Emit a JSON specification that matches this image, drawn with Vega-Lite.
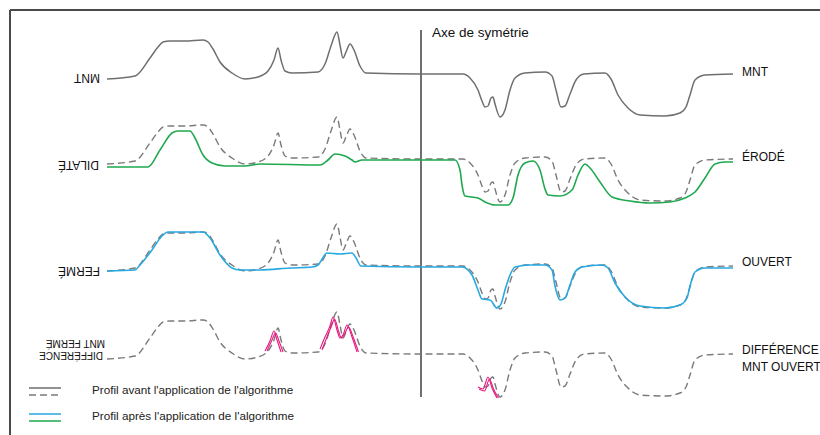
{
  "$schema": "https://vega.github.io/schema/vega-lite/v6.json",
  "width": 820,
  "height": 435,
  "autosize": "none",
  "padding": 0,
  "background": "white",
  "config": {"view": {"stroke": null}},
  "resolve": {"scale": {"color": "independent", "strokeDash": "independent"}},
  "datasets": {
    "mnt": [
      {"x":107,"a":79,"b":164,"c":271,"d":359},
      {"x":135,"a":76,"b":161,"c":268,"d":356},
      {"x":150,"a":58,"b":143,"c":250,"d":338},
      {"x":158,"a":47,"b":132,"c":239,"d":327},
      {"x":163,"a":42,"b":127,"c":234,"d":322},
      {"x":170,"a":41,"b":126,"c":233,"d":321},
      {"x":185,"a":41,"b":126,"c":233,"d":321},
      {"x":203,"a":40,"b":125,"c":232,"d":320},
      {"x":208,"a":42,"b":127,"c":234,"d":322},
      {"x":213,"a":49,"b":134,"c":241,"d":329},
      {"x":220,"a":62,"b":147,"c":254,"d":342},
      {"x":232,"a":73,"b":158,"c":265,"d":353},
      {"x":245,"a":79,"b":164,"c":271,"d":359},
      {"x":258,"a":77,"b":162,"c":269,"d":357},
      {"x":268,"a":71,"b":156,"c":263,"d":351},
      {"x":274,"a":60,"b":145,"c":252,"d":340},
      {"x":278,"a":48,"b":133,"c":240,"d":328},
      {"x":281,"a":60,"b":145,"c":252,"d":340},
      {"x":285,"a":71,"b":156,"c":263,"d":351},
      {"x":292,"a":73,"b":158,"c":265,"d":353},
      {"x":318,"a":72,"b":157,"c":264,"d":352},
      {"x":325,"a":64,"b":149,"c":256,"d":344},
      {"x":331,"a":46,"b":131,"c":238,"d":326},
      {"x":337,"a":32,"b":117,"c":224,"d":312},
      {"x":340,"a":45,"b":130,"c":237,"d":325},
      {"x":343,"a":58,"b":143,"c":250,"d":338},
      {"x":346,"a":52,"b":137,"c":244,"d":332},
      {"x":350,"a":44,"b":129,"c":236,"d":324},
      {"x":354,"a":50,"b":135,"c":242,"d":330},
      {"x":360,"a":66,"b":151,"c":258,"d":346},
      {"x":366,"a":73,"b":158,"c":265,"d":353},
      {"x":420,"a":74,"b":159,"c":266,"d":354},
      {"x":463,"a":74,"b":159,"c":266,"d":354},
      {"x":470,"a":78,"b":163,"c":270,"d":358},
      {"x":478,"a":90,"b":175,"c":282,"d":370},
      {"x":482,"a":101,"b":186,"c":293,"d":381},
      {"x":485,"a":107,"b":192,"c":299,"d":387},
      {"x":488,"a":106,"b":191,"c":298,"d":386},
      {"x":491,"a":98,"b":183,"c":290,"d":378},
      {"x":493,"a":97,"b":182,"c":289,"d":377},
      {"x":495,"a":104,"b":189,"c":296,"d":384},
      {"x":500,"a":117,"b":202,"c":309,"d":397},
      {"x":505,"a":110,"b":195,"c":302,"d":390},
      {"x":510,"a":90,"b":175,"c":282,"d":370},
      {"x":515,"a":78,"b":163,"c":270,"d":358},
      {"x":525,"a":73,"b":158,"c":265,"d":353},
      {"x":545,"a":72,"b":157,"c":264,"d":352},
      {"x":552,"a":76,"b":161,"c":268,"d":356},
      {"x":556,"a":90,"b":175,"c":282,"d":370},
      {"x":561,"a":107,"b":192,"c":299,"d":387},
      {"x":565,"a":106,"b":191,"c":298,"d":386},
      {"x":570,"a":94,"b":179,"c":286,"d":374},
      {"x":576,"a":80,"b":165,"c":272,"d":360},
      {"x":584,"a":74,"b":159,"c":266,"d":354},
      {"x":605,"a":73,"b":158,"c":265,"d":353},
      {"x":611,"a":79,"b":164,"c":271,"d":359},
      {"x":618,"a":95,"b":180,"c":287,"d":375},
      {"x":628,"a":108,"b":193,"c":300,"d":388},
      {"x":640,"a":115,"b":200,"c":307,"d":395},
      {"x":665,"a":116,"b":201,"c":308,"d":396},
      {"x":680,"a":113,"b":198,"c":305,"d":393},
      {"x":686,"a":107,"b":192,"c":299,"d":387},
      {"x":690,"a":95,"b":180,"c":287,"d":375},
      {"x":695,"a":80,"b":165,"c":272,"d":360},
      {"x":705,"a":75,"b":160,"c":267,"d":355},
      {"x":733,"a":74,"b":159,"c":266,"d":354}
    ],
    "algo": [
      {"s":"g","k":"vert","x":107,"y":167},{"s":"g","k":"vert","x":148,"y":167},{"s":"g","k":"vert","x":160,"y":150},
      {"s":"g","k":"vert","x":172,"y":133},{"s":"g","k":"vert","x":178,"y":131},{"s":"g","k":"vert","x":190,"y":131},
      {"s":"g","k":"vert","x":195,"y":138},{"s":"g","k":"vert","x":203,"y":155},{"s":"g","k":"vert","x":212,"y":163},
      {"s":"g","k":"vert","x":225,"y":166},{"s":"g","k":"vert","x":245,"y":166},{"s":"g","k":"vert","x":260,"y":164},
      {"s":"g","k":"vert","x":320,"y":165},{"s":"g","k":"vert","x":328,"y":160},{"s":"g","k":"vert","x":335,"y":154},
      {"s":"g","k":"vert","x":345,"y":156},{"s":"g","k":"vert","x":352,"y":160},{"s":"g","k":"vert","x":355,"y":162},
      {"s":"g","k":"vert","x":362,"y":160},{"s":"g","k":"vert","x":420,"y":160},{"s":"g","k":"vert","x":455,"y":160},
      {"s":"g","k":"vert","x":460,"y":170},{"s":"g","k":"vert","x":462,"y":185},{"s":"g","k":"vert","x":465,"y":196},
      {"s":"g","k":"vert","x":478,"y":198},{"s":"g","k":"vert","x":485,"y":202},{"s":"g","k":"vert","x":495,"y":205},
      {"s":"g","k":"vert","x":508,"y":205},{"s":"g","k":"vert","x":513,"y":198},{"s":"g","k":"vert","x":518,"y":175},
      {"s":"g","k":"vert","x":525,"y":163},{"s":"g","k":"vert","x":533,"y":161},{"s":"g","k":"vert","x":540,"y":170},
      {"s":"g","k":"vert","x":545,"y":189},{"s":"g","k":"vert","x":548,"y":195},{"s":"g","k":"vert","x":560,"y":196},
      {"s":"g","k":"vert","x":572,"y":190},{"s":"g","k":"vert","x":578,"y":175},{"s":"g","k":"vert","x":585,"y":164},
      {"s":"g","k":"vert","x":590,"y":168},{"s":"g","k":"vert","x":600,"y":182},{"s":"g","k":"vert","x":612,"y":197},
      {"s":"g","k":"vert","x":630,"y":201},{"s":"g","k":"vert","x":650,"y":203},{"s":"g","k":"vert","x":670,"y":202},
      {"s":"g","k":"vert","x":685,"y":198},{"s":"g","k":"vert","x":695,"y":192},{"s":"g","k":"vert","x":705,"y":178},
      {"s":"g","k":"vert","x":715,"y":164},{"s":"g","k":"vert","x":725,"y":162},{"s":"g","k":"vert","x":733,"y":162},
      {"s":"b","k":"bleu","x":107,"y":271},{"s":"b","k":"bleu","x":135,"y":270},{"s":"b","k":"bleu","x":140,"y":265},
      {"s":"b","k":"bleu","x":152,"y":250},{"s":"b","k":"bleu","x":162,"y":236},{"s":"b","k":"bleu","x":168,"y":232},
      {"s":"b","k":"bleu","x":203,"y":232},{"s":"b","k":"bleu","x":210,"y":238},{"s":"b","k":"bleu","x":220,"y":255},
      {"s":"b","k":"bleu","x":232,"y":268},{"s":"b","k":"bleu","x":240,"y":270},{"s":"b","k":"bleu","x":260,"y":270},
      {"s":"b","k":"bleu","x":290,"y":268},{"s":"b","k":"bleu","x":312,"y":267},{"s":"b","k":"bleu","x":318,"y":265},
      {"s":"b","k":"bleu","x":327,"y":253},{"s":"b","k":"bleu","x":340,"y":254},{"s":"b","k":"bleu","x":352,"y":253},
      {"s":"b","k":"bleu","x":356,"y":258},{"s":"b","k":"bleu","x":361,"y":266},{"s":"b","k":"bleu","x":420,"y":267},
      {"s":"b","k":"bleu","x":462,"y":267},{"s":"b","k":"bleu","x":472,"y":275},{"s":"b","k":"bleu","x":478,"y":290},
      {"s":"b","k":"bleu","x":482,"y":299},{"s":"b","k":"bleu","x":490,"y":300},{"s":"b","k":"bleu","x":497,"y":308},
      {"s":"b","k":"bleu","x":501,"y":304},{"s":"b","k":"bleu","x":505,"y":290},{"s":"b","k":"bleu","x":510,"y":275},
      {"s":"b","k":"bleu","x":515,"y":267},{"s":"b","k":"bleu","x":530,"y":265},{"s":"b","k":"bleu","x":545,"y":265},
      {"s":"b","k":"bleu","x":552,"y":270},{"s":"b","k":"bleu","x":555,"y":286},{"s":"b","k":"bleu","x":560,"y":300},
      {"s":"b","k":"bleu","x":565,"y":298},{"s":"b","k":"bleu","x":570,"y":285},{"s":"b","k":"bleu","x":575,"y":272},
      {"s":"b","k":"bleu","x":582,"y":267},{"s":"b","k":"bleu","x":602,"y":265},{"s":"b","k":"bleu","x":608,"y":268},
      {"s":"b","k":"bleu","x":615,"y":283},{"s":"b","k":"bleu","x":625,"y":297},{"s":"b","k":"bleu","x":640,"y":306},
      {"s":"b","k":"bleu","x":665,"y":308},{"s":"b","k":"bleu","x":680,"y":305},{"s":"b","k":"bleu","x":687,"y":298},
      {"s":"b","k":"bleu","x":690,"y":286},{"s":"b","k":"bleu","x":695,"y":272},{"s":"b","k":"bleu","x":705,"y":268},
      {"s":"b","k":"bleu","x":733,"y":268}
    ],
    "pink": [
      {"s":"p1","x":265,"y":351},{"s":"p1","x":270,"y":341},{"s":"p1","x":274,"y":331},{"s":"p1","x":277,"y":340},{"s":"p1","x":281,"y":352},
      {"s":"p1b","x":267,"y":351},{"s":"p1b","x":272,"y":340},{"s":"p1b","x":275.5,"y":333},{"s":"p1b","x":279,"y":341},{"s":"p1b","x":283,"y":352},
      {"s":"p2","x":320,"y":349},{"s":"p2","x":325,"y":337},{"s":"p2","x":330,"y":326},{"s":"p2","x":333,"y":317},{"s":"p2","x":337,"y":330},
      {"s":"p2","x":340,"y":338},{"s":"p2","x":343,"y":335},{"s":"p2","x":347,"y":325},{"s":"p2","x":352,"y":337},{"s":"p2","x":357,"y":352},
      {"s":"p2b","x":322,"y":350},{"s":"p2b","x":327,"y":337},{"s":"p2b","x":331.5,"y":326},{"s":"p2b","x":334.5,"y":319},{"s":"p2b","x":338.5,"y":331},
      {"s":"p2b","x":341.5,"y":338},{"s":"p2b","x":344.5,"y":334},{"s":"p2b","x":348.5,"y":327},{"s":"p2b","x":353.5,"y":338},{"s":"p2b","x":358.5,"y":352},
      {"s":"p3","x":478,"y":387},{"s":"p3","x":483,"y":389},{"s":"p3","x":488,"y":377},{"s":"p3","x":492,"y":388},{"s":"p3","x":497,"y":398},
      {"s":"p3b","x":479,"y":389},{"s":"p3b","x":484.5,"y":391},{"s":"p3b","x":489.5,"y":379},{"s":"p3b","x":493.5,"y":389},{"s":"p3b","x":498.5,"y":398}
    ],
    "frame": [
      {"x":10,"y":10,"x2":820,"y2":10},
      {"x":10,"y":10,"x2":10,"y2":435}
    ],
    "axe": [{"x":421,"y":30,"x2":421,"y2":397,"t":"Axe de symétrie","tx":432,"ty":33}],
    "labelsR": [
      {"t":"MNT","x":742,"y":72},
      {"t":"ÉRODÉ","x":742,"y":157},
      {"t":"OUVERT","x":742,"y":262},
      {"t":"DIFFÉRENCE","x":742,"y":350},
      {"t":"MNT OUVERT","x":742,"y":367}
    ],
    "labelsL": [
      {"t":"MNT","x":100,"y":78},
      {"t":"DILATÉ","x":99,"y":165},
      {"t":"FERMÉ","x":100,"y":271}
    ],
    "labelsL2": [
      {"t":"MNT FERMÉ","x":105,"y":343},
      {"t":"DIFFÉRENCE","x":103,"y":355}
    ],
    "legend": [
      {"k":"avant","x":29,"x2":61,"y":388},
      {"k":"avant tirets","x":29,"x2":61,"y":395},
      {"k":"après bleu","x":29,"x2":61,"y":414},
      {"k":"après vert","x":29,"x2":61,"y":421}
    ],
    "legendText": [
      {"t":"Profil avant l'application de l'algorithme","x":92,"y":390},
      {"t":"Profil après l'application de l'algorithme","x":92,"y":416}
    ]
  },
  "layer": [
    {
      "data": {"name": "frame"},
      "mark": {"type": "rule", "color": "#4a4a4a", "strokeWidth": 2},
      "encoding": {
        "x": {"field": "x", "type": "quantitative", "scale": {"domain": [0, 820], "nice": false}, "axis": null},
        "y": {"field": "y", "type": "quantitative", "scale": {"domain": [0, 435], "nice": false, "reverse": true}, "axis": null},
        "x2": {"field": "x2"},
        "y2": {"field": "y2"}
      }
    },
    {
      "data": {"name": "axe"},
      "mark": {"type": "rule", "color": "#222222", "strokeWidth": 1.3},
      "encoding": {
        "x": {"field": "x", "type": "quantitative", "scale": {"domain": [0, 820], "nice": false}, "axis": null},
        "y": {"field": "y", "type": "quantitative", "scale": {"domain": [0, 435], "nice": false, "reverse": true}, "axis": null},
        "x2": {"field": "x2"},
        "y2": {"field": "y2"}
      }
    },
    {
      "data": {"name": "axe"},
      "mark": {"type": "text", "align": "left", "baseline": "middle", "font": "Liberation Sans, Arial", "fontSize": 13.5, "color": "#111111"},
      "encoding": {
        "x": {"field": "tx", "type": "quantitative", "scale": {"domain": [0, 820], "nice": false}, "axis": null},
        "y": {"field": "ty", "type": "quantitative", "scale": {"domain": [0, 435], "nice": false, "reverse": true}, "axis": null},
        "text": {"field": "t"}
      }
    },
    {
      "data": {"name": "mnt"},
      "mark": {"type": "line", "color": "#6f6f6f", "strokeWidth": 1.5, "interpolate": "monotone"},
      "encoding": {
        "x": {"field": "x", "type": "quantitative", "scale": {"domain": [0, 820], "nice": false}, "axis": null},
        "y": {"field": "a", "type": "quantitative", "scale": {"domain": [0, 435], "nice": false, "reverse": true}, "axis": null}
      }
    },
    {
      "data": {"name": "mnt"},
      "transform": [{"fold": ["b", "c", "d"], "as": ["row", "val"]}],
      "mark": {"type": "line", "color": "#7a7a7a", "strokeWidth": 1.4, "strokeDash": [7, 4], "interpolate": "monotone"},
      "encoding": {
        "x": {"field": "x", "type": "quantitative", "scale": {"domain": [0, 820], "nice": false}, "axis": null},
        "y": {"field": "val", "type": "quantitative", "scale": {"domain": [0, 435], "nice": false, "reverse": true}, "axis": null},
        "detail": {"field": "row"}
      }
    },
    {
      "data": {"name": "algo"},
      "mark": {"type": "line", "strokeWidth": 1.6, "interpolate": "monotone"},
      "encoding": {
        "x": {"field": "x", "type": "quantitative", "scale": {"domain": [0, 820], "nice": false}, "axis": null},
        "y": {"field": "y", "type": "quantitative", "scale": {"domain": [0, 435], "nice": false, "reverse": true}, "axis": null},
        "color": {"field": "k", "type": "nominal", "scale": {"domain": ["vert", "bleu"], "range": ["#1fa84f", "#27a9e1"]}, "legend": null},
        "detail": {"field": "s"}
      }
    },
    {
      "data": {"name": "pink"},
      "mark": {"type": "line", "strokeWidth": 1.1, "color": "#e5197f", "interpolate": "monotone"},
      "encoding": {
        "x": {"field": "x", "type": "quantitative", "scale": {"domain": [0, 820], "nice": false}, "axis": null},
        "y": {"field": "y", "type": "quantitative", "scale": {"domain": [0, 435], "nice": false, "reverse": true}, "axis": null},
        "detail": {"field": "s"}
      }
    },
    {
      "data": {"name": "legend"},
      "mark": {"type": "rule", "strokeWidth": 1.4},
      "encoding": {
        "x": {"field": "x", "type": "quantitative", "scale": {"domain": [0, 820], "nice": false}, "axis": null},
        "y": {"field": "y", "type": "quantitative", "scale": {"domain": [0, 435], "nice": false, "reverse": true}, "axis": null},
        "x2": {"field": "x2"},
        "color": {"field": "k", "type": "nominal", "scale": {"domain": ["avant", "avant tirets", "après bleu", "après vert"], "range": ["#6f6f6f", "#7a7a7a", "#27a9e1", "#1fa84f"]}, "legend": null},
        "strokeDash": {"field": "k", "type": "nominal", "scale": {"domain": ["avant", "avant tirets", "après bleu", "après vert"], "range": [[1, 0], [7, 4], [1, 0], [1, 0]]}, "legend": null}
      }
    },
    {
      "data": {"name": "legendText"},
      "mark": {"type": "text", "align": "left", "baseline": "middle", "font": "Liberation Sans, Arial", "fontSize": 11.7, "color": "#222222"},
      "encoding": {
        "x": {"field": "x", "type": "quantitative", "scale": {"domain": [0, 820], "nice": false}, "axis": null},
        "y": {"field": "y", "type": "quantitative", "scale": {"domain": [0, 435], "nice": false, "reverse": true}, "axis": null},
        "text": {"field": "t"}
      }
    },
    {
      "data": {"name": "labelsR"},
      "mark": {"type": "text", "align": "left", "baseline": "middle", "font": "Liberation Sans, Arial", "fontSize": 12, "color": "#111111"},
      "encoding": {
        "x": {"field": "x", "type": "quantitative", "scale": {"domain": [0, 820], "nice": false}, "axis": null},
        "y": {"field": "y", "type": "quantitative", "scale": {"domain": [0, 435], "nice": false, "reverse": true}, "axis": null},
        "text": {"field": "t"}
      }
    },
    {
      "data": {"name": "labelsL"},
      "mark": {"type": "text", "align": "left", "baseline": "middle", "angle": 180, "font": "Liberation Sans, Arial", "fontSize": 12, "color": "#111111"},
      "encoding": {
        "x": {"field": "x", "type": "quantitative", "scale": {"domain": [0, 820], "nice": false}, "axis": null},
        "y": {"field": "y", "type": "quantitative", "scale": {"domain": [0, 435], "nice": false, "reverse": true}, "axis": null},
        "text": {"field": "t"}
      }
    },
    {
      "data": {"name": "labelsL2"},
      "mark": {"type": "text", "align": "left", "baseline": "middle", "angle": 180, "font": "Liberation Sans, Arial", "fontSize": 10, "color": "#111111"},
      "encoding": {
        "x": {"field": "x", "type": "quantitative", "scale": {"domain": [0, 820], "nice": false}, "axis": null},
        "y": {"field": "y", "type": "quantitative", "scale": {"domain": [0, 435], "nice": false, "reverse": true}, "axis": null},
        "text": {"field": "t"}
      }
    }
  ]
}
